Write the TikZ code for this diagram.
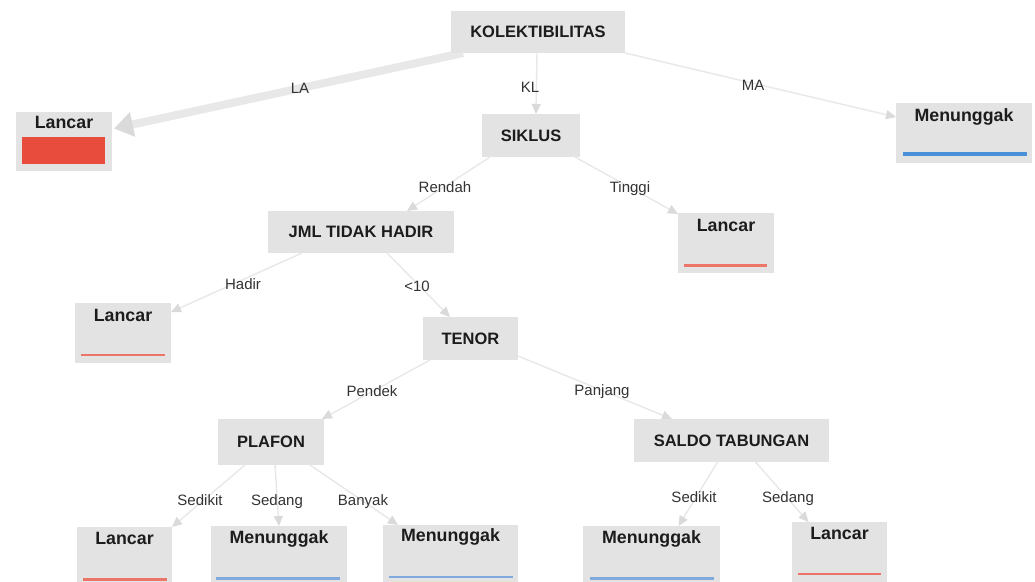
\documentclass[tikz,border=0pt]{standalone}
\usepackage{fontspec}
\setmainfont{Liberation Sans}
\usetikzlibrary{arrows.meta,backgrounds}
\definecolor{boxgray}{HTML}{E3E3E3}
\definecolor{edgegray}{HTML}{E8E8E8}
\definecolor{tipgray}{HTML}{DADADA}
\definecolor{lancarred}{HTML}{E74C3C}
\definecolor{lancarline}{HTML}{EC7468}
\definecolor{menblue}{HTML}{4A90D9}
\definecolor{menline}{HTML}{82A9DE}
\definecolor{txt}{HTML}{1C1C1C}
\definecolor{lbltxt}{HTML}{333333}

\begin{document}
\begin{tikzpicture}[x=1pt,y=-1pt,
  box/.style={fill=boxgray, inner sep=0pt, outer sep=0pt,
    font=\fontsize{16.5}{18}\selectfont\bfseries, text=txt,
    text height=11.8pt, text depth=0pt},
  leaf/.style={fill=boxgray, inner sep=0pt, outer sep=0pt},
  leaftitle/.style={font=\fontsize{17.8}{20}\selectfont\bfseries, text=txt,
    inner sep=0pt, text height=12.7pt, text depth=0pt},
  lbl/.style={font=\fontsize{15}{17}\selectfont, text=lbltxt, inner sep=0pt,
    text height=10.7pt, text depth=0pt},
  edge/.style={draw=edgegray, line width=1.4pt,
    -{Triangle[length=10pt,width=9pt,color=tipgray]}},
  bigedge/.style={draw=edgegray, line width=8pt,
    -{Triangle[length=19pt,width=24pt,color=tipgray]}},
]
\useasboundingbox (0,0) rectangle (1035,581);
\clip (0,0) rectangle (1035,581);

% decision nodes
\node[box, minimum width=174pt, minimum height=42pt] (kol) at (538,32) {KOLEKTIBILITAS};
\node[box, minimum width=98pt, minimum height=43pt] (sik) at (531,135.5) {SIKLUS};
\node[box, minimum width=186pt, minimum height=42pt] (jml) at (361,232) {JML TIDAK HADIR};
\node[box, minimum width=95pt, minimum height=43pt] (tenor) at (470.5,338.5) {TENOR};
\node[box, minimum width=106pt, minimum height=46pt] (plafon) at (271,442) {PLAFON};
\node[box, minimum width=195pt, minimum height=43pt] (saldo) at (731.5,440.5) {SALDO TABUNGAN};

% leaves
\node[leaf, minimum width=96pt, minimum height=59pt] (lanLA) at (64,141.5) {};
\node[leaftitle] (tLA) at (64,122) {Lancar};
\fill[lancarred] (22,137) rectangle (105,164);

\node[leaf, minimum width=136pt, minimum height=60pt] (menMA) at (964,133) {};
\node[leaftitle] (tMA) at (964,115) {Menunggak};
\fill[menblue] (903,152) rectangle (1027,156);

\node[leaf, minimum width=96pt, minimum height=60pt] (lanT) at (726,243) {};
\node[leaftitle] (tT) at (726,225) {Lancar};
\fill[lancarline] (684,264) rectangle (767,266.5);

\node[leaf, minimum width=96pt, minimum height=60pt] (lanH) at (123,333) {};
\node[leaftitle] (tH) at (123,315) {Lancar};
\fill[lancarline] (81,353.5) rectangle (165,356);

\node[leaf, minimum width=95pt, minimum height=74pt] (lanS) at (124.5,564) {};
\node[leaftitle] (tS) at (124.5,538.5) {Lancar};
\fill[lancarline] (83,578) rectangle (167,580.5);

\node[leaf, minimum width=136pt, minimum height=75pt] (menS) at (279,563.5) {};
\node[leaftitle] (tMS) at (279,537) {Menunggak};
\fill[menline] (216,577) rectangle (340,579.5);

\node[leaf, minimum width=135pt, minimum height=76pt] (menB) at (450.5,563) {};
\node[leaftitle] (tMB) at (450.5,535) {Menunggak};
\fill[menline] (389,575.5) rectangle (513,578);

\node[leaf, minimum width=137pt, minimum height=75pt] (menSal) at (651.5,563.5) {};
\node[leaftitle] (tMSal) at (651.5,537) {Menunggak};
\fill[menline] (590,577) rectangle (714,579.5);

\node[leaf, minimum width=95pt, minimum height=79pt] (lanSal) at (839.5,561.5) {};
\node[leaftitle] (tSal) at (839.5,533) {Lancar};
\fill[lancarline] (798,572.5) rectangle (881,575);

% branches, drawn beneath the boxes
\begin{scope}[on background layer]
\fill[white] (0,0) rectangle (1035,581);
\draw[bigedge] ([xshift=12pt]kol.south west) -- ([xshift=2pt,yshift=13pt]lanLA.east);
\draw[edge] ([xshift=-1pt]kol.south) -- ([xshift=5pt]sik.north);
\draw[edge] (kol.south east) -- ([yshift=16pt]menMA.west);
\draw[edge] ([xshift=8pt]sik.south west) -- ([xshift=46pt]jml.north);
\draw[edge] ([xshift=-5pt]sik.south east) -- ([yshift=-1pt]lanT.north west);
\draw[edge] ([xshift=34pt]jml.south west) -- ([yshift=-9pt]lanH.north east);
\draw[edge] ([xshift=26pt]jml.south) -- ([xshift=27pt]tenor.north west);
\draw[edge] ([xshift=7pt]tenor.south west) -- ([xshift=-2pt]plafon.north east);
\draw[edge] ([yshift=4pt]tenor.south east) -- ([xshift=38pt]saldo.north west);
\draw[edge] ([xshift=27pt]plafon.south west) -- (lanS.north east);
\draw[edge] ([xshift=4pt]plafon.south) -- (menS.north);
\draw[edge] ([xshift=-14pt]plafon.south east) -- ([xshift=15pt]menB.north west);
\draw[edge] ([xshift=-14pt]saldo.south) -- ([xshift=27pt]menSal.north);
\draw[edge] ([xshift=24pt]saldo.south) -- ([xshift=-31pt]lanSal.north);
\end{scope}

% branch labels
\node[lbl] (bLA) at (300,88) {LA};
\node[lbl] (bKL) at (530,87) {KL};
\node[lbl] (bMA) at (753,85) {MA};
\node[lbl] (bRendah) at (445,187) {Rendah};
\node[lbl] (bTinggi) at (630,187) {Tinggi};
\node[lbl] (bHadir) at (243,284) {Hadir};
\node[lbl] (bKurang) at (417,286) {<10};
\node[lbl] (bPendek) at (372,391) {Pendek};
\node[lbl] (bPanjang) at (602,390) {Panjang};
\node[lbl] (bSedikitA) at (200,500) {Sedikit};
\node[lbl] (bSedangA) at (277,500) {Sedang};
\node[lbl] (bBanyak) at (363,500) {Banyak};
\node[lbl] (bSedikitB) at (694,497) {Sedikit};
\node[lbl] (bSedangB) at (788,497) {Sedang};
\end{tikzpicture}
\end{document}
